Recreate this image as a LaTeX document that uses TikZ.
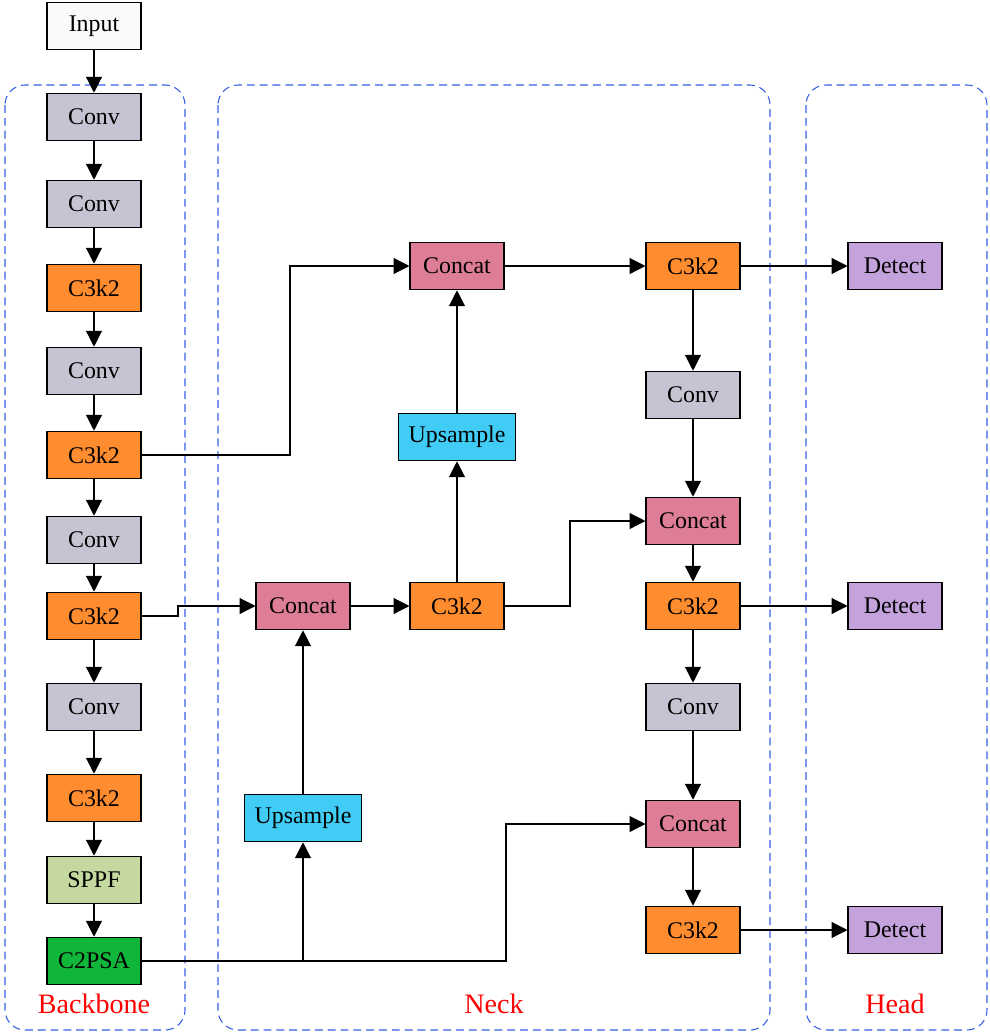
\documentclass[tikz,border=0pt]{standalone}
\usepackage{fontspec}
\setmainfont{Liberation Serif}
\usepackage{tikz}
\usetikzlibrary{positioning,arrows.meta,calc}
\definecolor{cConv}{RGB}{197,196,210}
\definecolor{cC3}{RGB}{255,140,46}
\definecolor{cCat}{RGB}{222,126,150}
\definecolor{cUp}{RGB}{64,204,245}
\definecolor{cDet}{RGB}{196,162,220}
\definecolor{cSppf}{RGB}{197,216,160}
\definecolor{cPsa}{RGB}{16,182,58}
\definecolor{cIn}{RGB}{250,250,250}
\definecolor{cGrp}{RGB}{55,95,230}

\begin{document}
\begin{tikzpicture}[x=0.02cm,y=-0.02cm,
  font=\fontsize{13.6}{16}\selectfont,
  blk/.style={draw=black,line width=0.6pt,minimum width=1.88cm,minimum height=0.95cm,inner sep=1pt},
  inp/.style={blk,fill=cIn},
  conv/.style={blk,fill=cConv},
  ctk/.style={blk,fill=cC3},
  cat/.style={blk,fill=cCat},
  ups/.style={blk,fill=cUp,minimum width=2.34cm},
  det/.style={blk,fill=cDet},
  sppf/.style={blk,fill=cSppf},
  psa/.style={blk,fill=cPsa},
  arr/.style={-{Triangle[length=9pt,width=9pt]},line width=0.7pt},
  grp/.style={draw=cGrp,dash pattern=on 4.5pt off 2.8pt,line width=0.6pt,rounded corners=0.4cm},
  grplabel/.style={text=red,font=\fontsize{16}{18}\selectfont}]
  \useasboundingbox (0,0) rectangle (990,1035);
  % groups
  \draw[grp] (5,85) rectangle (185,1030);
  \draw[grp] (218,85) rectangle (770,1030);
  \draw[grp] (806,85) rectangle (987,1030);
  \node[grplabel] (lbb) at (94,1004) {Backbone};
  \node[grplabel] (lnk) at (494,1004) {Neck};
  \node[grplabel] (lhd) at (895,1004) {Head};
  % backbone
  \foreach \i/\y/\txt/\sty in {
     0/26/Input/inp, 1/117/Conv/conv, 2/204/Conv/conv, 3/288/C3k2/ctk,
     4/371/Conv/conv, 5/455/C3k2/ctk, 6/540/Conv/conv, 7/616/C3k2/ctk,
     8/707/Conv/conv, 9/798/C3k2/ctk, 10/880/SPPF/sppf, 11/961/C2PSA/psa}
    \node[\sty] (b\i) at (94,\y) {\txt};
  \foreach \i in {0,...,10} {
    \pgfmathtruncatemacro{\j}{\i+1}
    \draw[arr] (b\i) -- (b\j);
  }
  % neck
  \node[cat] (cl) at (303,606) {Concat};
  \node[ups] (ul) at (303,818) {Upsample};
  \node[ctk] (cm) at (457,606) {C3k2};
  \node[ups] (uu) at (457,437) {Upsample};
  \node[cat] (ct) at (457,266) {Concat};
  \node[ctk] (r1) at (693,266) {C3k2};
  \node[conv] (r2) at (693,395) {Conv};
  \node[cat] (r3) at (693,521) {Concat};
  \node[ctk] (r4) at (693,606) {C3k2};
  \node[conv] (r5) at (693,707) {Conv};
  \node[cat] (r6) at (693,824) {Concat};
  \node[ctk] (r7) at (693,930) {C3k2};
  % head
  \node[det] (d1) at (895,266) {Detect};
  \node[det] (d2) at (895,606) {Detect};
  \node[det] (d3) at (895,930) {Detect};
  % turning points
  \coordinate (j1) at (290,0);
  \coordinate (j2) at (178,0);
  \coordinate (j3) at (570,0);
  \coordinate (j4) at (506,0);
  % connections
  \draw[arr] (b5.east) -- (b5.east -| j1) |- (ct.west);
  \draw[arr] (b7.east) -- (b7.east -| j2) |- (cl.west);
  \draw[arr] (b11.east) -| (ul.south);
  \draw[arr] (b11.east) -- (b11.east -| j4) |- (r6.west);
  \draw[arr] (ul) -- (cl);
  \draw[arr] (cl) -- (cm);
  \draw[arr] (cm) -- (uu);
  \draw[arr] (uu) -- (ct);
  \draw[arr] (cm.east) -- (cm.east -| j3) |- (r3.west);
  \draw[arr] (ct) -- (r1);
  \foreach \a/\b in {r1/r2,r2/r3,r3/r4,r4/r5,r5/r6,r6/r7}
    \draw[arr] (\a) -- (\b);
  \draw[arr] (r1) -- (d1);
  \draw[arr] (r4) -- (d2);
  \draw[arr] (r7) -- (d3);
\end{tikzpicture}
\end{document}
